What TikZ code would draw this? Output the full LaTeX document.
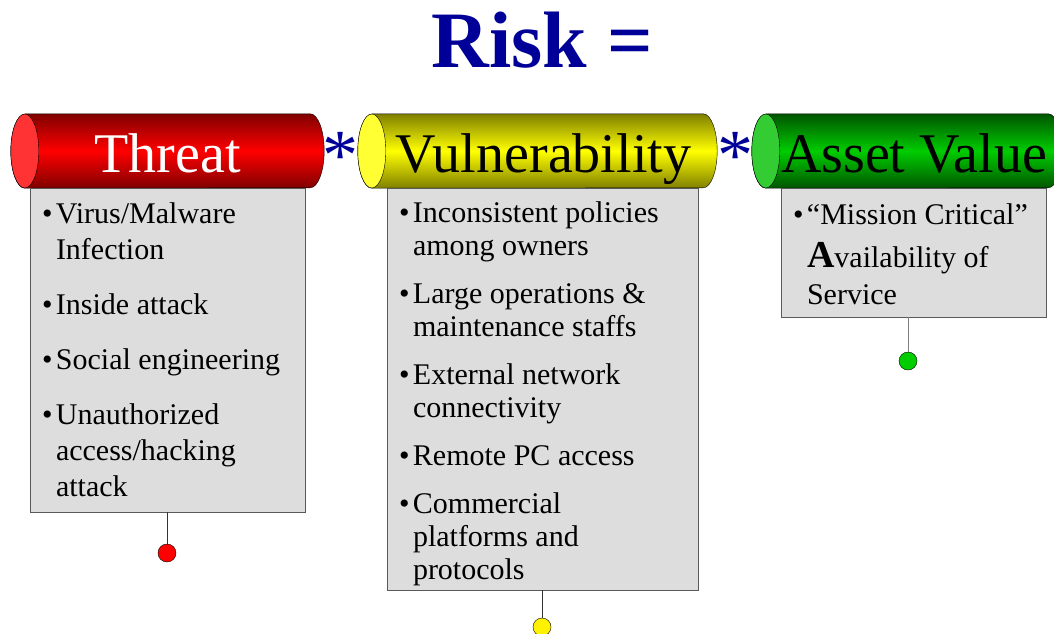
\documentclass[tikz,border=0pt]{standalone}
\usepackage{fontspec}
\setmainfont{Liberation Serif}
\usetikzlibrary{positioning,calc,backgrounds}
\definecolor{riskblue}{HTML}{000099}
\definecolor{boxgray}{HTML}{DDDDDD}
\definecolor{threatface}{HTML}{FF3333}
\definecolor{vulnface}{HTML}{FFFF33}
\definecolor{assetface}{HTML}{33CC33}
\definecolor{assetmid}{HTML}{00CC00}
\definecolor{assetdark}{HTML}{005500}
\tikzset{%
    % header over each factor
    hdr/.style = {
        rectangle, minimum width=#1, minimum height=74pt, inner sep=0pt,
        text height=50pt, text depth=8pt,
        font=\fontsize{56}{60}\selectfont
    },
    listbox/.style = {rectangle, draw=black!65, fill=boxgray, anchor=north, inner sep=0pt},
    listtxt/.style = {anchor=north west, align=left, inner sep=0pt},
    pin/.style = {circle, draw=black, minimum size=18pt, inner sep=0pt},
    timesop/.style = {text=riskblue, font=\fontsize{72}{72}\selectfont, anchor=base, inner sep=0pt}
}
\newcommand\bul{\makebox[14pt][l]{•}}
\newcommand\itemind{\hspace*{14pt}}
% cylinder behind a header node: #1 node, #2 dark, #3 bright, #4 end face
\newcommand\drawcyl[4]{%
    \shade[top color=#2, bottom color=#2, middle color=#3, draw=black]
        ([xshift=14pt]#1.north west) -- ([xshift=-14pt]#1.north east)
        arc[start angle=90, end angle=-90, x radius=14pt, y radius=37pt]
        -- ([xshift=14pt]#1.south west)
        arc[start angle=270, end angle=90, x radius=14pt, y radius=37pt] -- cycle;
    \filldraw[fill=#4, draw=black] ([xshift=14pt]#1.west)
        ellipse[x radius=14pt, y radius=37pt];
}

\begin{document}
\begin{tikzpicture}[x=1pt, y=-1pt]
\useasboundingbox (0,0) rectangle (1054,633);

\node[text=riskblue, font=\fontsize{80}{82}\selectfont\bfseries, anchor=base] (title) at (542,67) {Risk =};

% factors
\node[hdr=313pt, text=white] (threat) at (167.5,151) {Threat};
\node[hdr=359pt] (vuln) at (537.5,151) {\hspace*{12pt}Vulnerability};
\node[hdr=310pt] (asset) at (907,151) {\hspace*{14pt}Asset Value};

\node[timesop] (op1) at (340,179) {*};
\node[timesop] (op2) at (735,179) {*};

% lists
\node[listbox, minimum width=275pt, minimum height=324pt] (threatbox) at (167.5,188) {};
\node[listbox, minimum width=311pt, minimum height=402pt] (vulnbox) at (542.5,188) {};
\node[listbox, minimum width=265pt, minimum height=129pt] (assetbox) at (913.5,188) {};

\node[listtxt, font=\fontsize{30}{36}\selectfont] (threattxt)
    at ([xshift=12pt, yshift=-9.8pt]threatbox.north west)
    {\strut\bul Virus/Malware\\ \itemind Infection\\[19pt]
     \bul Inside attack\\[19pt]
     \bul Social engineering\\[19pt]
     \bul Unauthorized\\ \itemind access/hacking\\ \itemind attack};
\node[listtxt, font=\fontsize{30}{33}\selectfont] (vulntxt)
    at ([xshift=12pt, yshift=-10.9pt]vulnbox.north west)
    {\strut\bul Inconsistent policies\\ \itemind among owners\\[15pt]
     \bul Large operations \&\\ \itemind maintenance staffs\\[15pt]
     \bul External network\\ \itemind connectivity\\[15pt]
     \bul Remote PC access\\[15pt]
     \bul Commercial\\ \itemind platforms and\\ \itemind protocols};
\node[listtxt, font=\fontsize{30}{37}\selectfont] (assettxt)
    at ([xshift=12pt, yshift=-10pt]assetbox.north west)
    {\strut\bul “Mission Critical”\\[6pt]
     \itemind{\bfseries\fontsize{38}{37}\selectfont A}vailability of\\
     \itemind Service};

% pins
\node[pin, fill=red] (threatpin) at (167,553) {};
\node[pin, fill=yellow] (vulnpin) at (542,627) {};
\node[pin, fill=assetmid] (assetpin) at (908,361) {};
\draw[black!80] (threatbox.south -| threatpin) -- (threatpin);
\draw[black!80] (vulnbox.south -| vulnpin) -- (vulnpin);
\draw[black!50] (assetbox.south -| assetpin) -- (assetpin);

\begin{scope}[on background layer]
    \drawcyl{threat}{red!50!black}{red}{threatface}
    \drawcyl{vuln}{yellow!50!black}{yellow}{vulnface}
    \drawcyl{asset}{assetdark}{assetmid}{assetface}
\end{scope}
\end{tikzpicture}
\end{document}
